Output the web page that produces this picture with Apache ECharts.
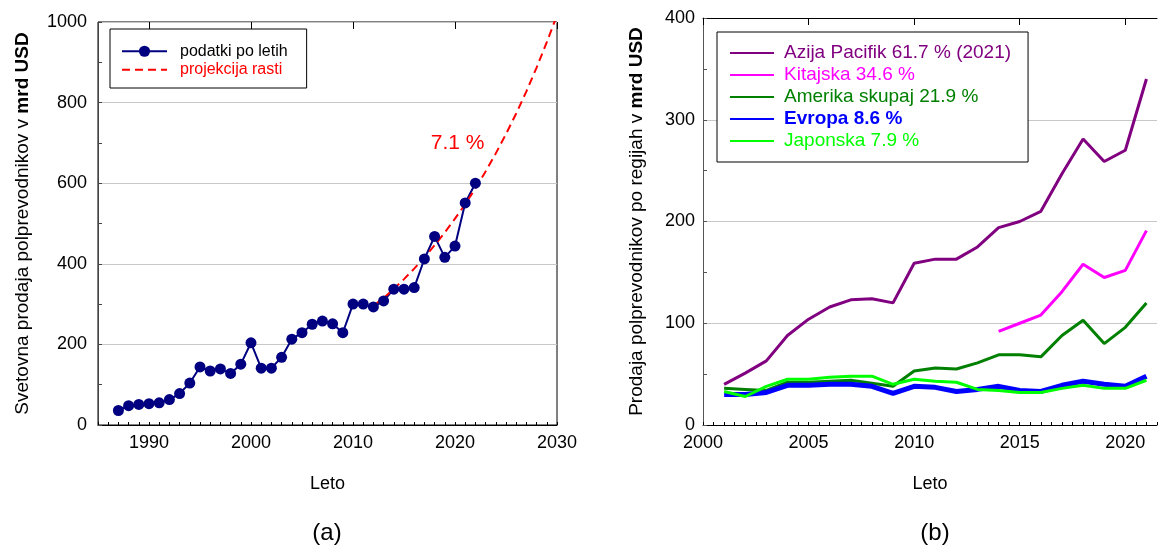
<!DOCTYPE html>
<html><head><meta charset="utf-8">
<script src="https://cdn.jsdelivr.net/npm/echarts@6/dist/echarts.min.js"></script>
<style>html,body{margin:0;padding:0;background:#fff}#c{width:1160px;height:546px}</style>
</head><body><div id="c"></div>
<script>
// ---------- Data (a) ----------
const worldYears = [1987,1988,1989,1990,1991,1992,1993,1994,1995,1996,1997,1998,1999,2000,2001,2002,2003,2004,2005,2006,2007,2008,2009,2010,2011,2012,2013,2014,2015,2016,2017,2018,2019,2020,2021,2022];
const worldSales = [36,48,51,53,55,63,78,104,144,134,139,128,151,204,141,141,168,213,229,250,258,251,229,300,300,293,308,337,337,341,412,468,416,444,551,600];
const projYears = [2012,2013,2014,2015,2016,2017,2018,2019,2020,2021,2022,2023,2024,2025,2026,2027,2028,2029,2030];
const projSales = [296,315,338,362,388,416,446,478,512,548,587,629,674,722,773,828,887,950,1017];
const growthLabel = '7.1 %';
const growthLabelPos = [2020.25, 700];
const xTicksA = [1990,2000,2010,2020,2030];

// ---------- Data (b) ----------
const regionYears = [2001,2002,2003,2004,2005,2006,2007,2008,2009,2010,2011,2012,2013,2014,2015,2016,2017,2018,2019,2020,2021];
const asiaPacific = [40,51,63,88,104,116,123,124,120,159,163,163,175,194,200,210,247,281,259,270,340];
const china      = [null,null,null,null,null,null,null,null,null,null,null,null,null,92,100,108,131,158,145,152,191];
const americas   = [36,35,34,42,42,43,44,41,38,53,56,55,61,69,69,67,88,103,80,96,120];
const europe     = [30,30,32,39,39,40,40,38,31,38,37,33,35,38,34,33,39,43,40,38,48];
const japan      = [33,28,38,45,45,47,48,48,40,45,43,42,35,34,32,32,36,39,36,36,44];
const regionNames = ['Azija Pacifik 61.7 % (2021)','Kitajska 34.6 %','Amerika skupaj 21.9 %','Evropa 8.6 %','Japonska 7.9 %'];
const regionColors = ['#800080','#ff00ff','#008000','#0000ff','#00ff00'];
const xTicksB = [2000,2005,2010,2015,2020];

const pairs = (xs, ys) => xs.map((x, i) => [x, ys[i]]);
const FONT = 'Liberation Sans, Arial, sans-serif';
const plain = v => String(v);

const chart = echarts.init(document.getElementById('c'), null, {renderer: 'canvas'});

const option = {
  animation: false,
  textStyle: {fontFamily: FONT},
  grid: [
    {left: 98, width: 459, top: 22, bottom: 121, show: true, borderColor: '#000', borderWidth: 1},
    {left: 703, right: 0, top: 18, bottom: 121, show: false}
  ],
  xAxis: [
    {
      gridIndex: 0, type: 'value', min: 1985, max: 2030, interval: 1,
      axisLine: {lineStyle: {color: '#000', width: 1}},
      axisTick: {inside: true, length: 3, lineStyle: {color: '#000'}},
      axisLabel: {color: '#000', fontSize: 18, fontFamily: FONT, margin: 9,
        formatter: v => (xTicksA.indexOf(v) >= 0 ? String(v) : '')},
      splitLine: {show: false},
      name: 'Leto', nameLocation: 'middle', nameGap: 50,
      nameTextStyle: {color: '#000', fontSize: 18, fontFamily: FONT}
    },
    {
      gridIndex: 0, type: 'value', min: 1985, max: 2030, interval: 1,
      axisLine: {show: false},
      axisTick: {inside: true, length: 7, customValues: xTicksA, lineStyle: {color: '#000'}},
      axisLabel: {show: false},
      splitLine: {show: false}
    },
    {
      gridIndex: 1, type: 'value', min: 2000, max: 2021.5, interval: 0.5,
      axisLine: {lineStyle: {color: '#000', width: 1}},
      axisTick: {inside: true, length: 3, lineStyle: {color: '#000'}},
      axisLabel: {color: '#000', fontSize: 18, fontFamily: FONT, margin: 9,
        formatter: v => (xTicksB.indexOf(v) >= 0 ? String(v) : '')},
      splitLine: {show: false},
      name: 'Leto', nameLocation: 'middle', nameGap: 50,
      nameTextStyle: {color: '#000', fontSize: 18, fontFamily: FONT}
    },
    {
      gridIndex: 1, type: 'value', min: 2000, max: 2021.5, interval: 0.5,
      axisLine: {show: false},
      axisTick: {inside: true, length: 7, customValues: xTicksB, lineStyle: {color: '#000'}},
      axisLabel: {show: false},
      splitLine: {show: false}
    },
    {
      gridIndex: 1, type: 'value', position: 'top', min: 2000, max: 2021.5,
      axisLine: {show: true, lineStyle: {color: '#000', width: 1}},
      axisTick: {show: false}, axisLabel: {show: false}, splitLine: {show: false}
    }
  ],
  yAxis: [
    {
      gridIndex: 0, type: 'value', min: 0, max: 1000, interval: 200,
      axisLine: {show: true, lineStyle: {color: '#444', width: 1}},
      axisTick: {show: true, inside: true, length: 4, lineStyle: {color: '#444'}},
      minorTick: {show: true, splitNumber: 2, length: 4, lineStyle: {color: '#444'}},
      axisLabel: {color: '#000', fontSize: 18, fontFamily: FONT, margin: 11, formatter: plain},
      splitLine: {show: true, lineStyle: {color: '#c8c8c8', width: 1}},
      name: '{a|Svetovna prodaja polprevodnikov v }{b|mrd USD}',
      nameLocation: 'middle', nameGap: 66, nameRotate: 90,
      nameTextStyle: {rich: {
        a: {fontSize: 19, color: '#000', fontFamily: FONT},
        b: {fontSize: 19, color: '#000', fontFamily: FONT, fontWeight: 'bold'}
      }}
    },
    {
      gridIndex: 1, type: 'value', min: 0, max: 400, interval: 100,
      axisLine: {show: true, lineStyle: {color: '#555', width: 1}},
      axisTick: {show: true, inside: true, length: 4, lineStyle: {color: '#555'}},
      minorTick: {show: true, splitNumber: 2, length: 4, lineStyle: {color: '#555'}},
      axisLabel: {color: '#000', fontSize: 18, fontFamily: FONT, margin: 8, formatter: plain},
      splitLine: {show: true, lineStyle: {color: '#c8c8c8', width: 1}},
      name: '{a|Prodaja polprevodnikov po regijah v }{b|mrd USD}',
      nameLocation: 'middle', nameGap: 57, nameRotate: 90,
      nameTextStyle: {rich: {
        a: {fontSize: 19, color: '#000', fontFamily: FONT},
        b: {fontSize: 19, color: '#000', fontFamily: FONT, fontWeight: 'bold'}
      }}
    }
  ],
  legend: [
    {
      orient: 'vertical', left: 110, top: 29,
      padding: [13, 19, 9, 11],
      borderColor: '#000', borderWidth: 1, backgroundColor: '#fff',
      itemWidth: 45, itemHeight: 14, itemGap: 0,
      textStyle: {fontSize: 16, lineHeight: 18.5, fontFamily: FONT, padding: [0, 0, 0, 8]},
      data: [
        {name: 'podatki po letih', textStyle: {color: '#000'}},
        {name: 'projekcija rasti', textStyle: {color: '#ff0000'}, itemStyle: {opacity: 0}}
      ]
    },
    {
      orient: 'vertical', left: 717, top: 32,
      padding: [10, 17, 10, 12],
      borderColor: '#000', borderWidth: 1, backgroundColor: '#fff',
      itemWidth: 44, itemHeight: 14, itemGap: 0,
      textStyle: {fontSize: 19, lineHeight: 22, fontFamily: FONT, padding: [0, 0, 0, 5]},
      data: regionNames.map((n, i) => ({
        name: n,
        itemStyle: {opacity: 0},
        textStyle: {color: regionColors[i], fontWeight: i === 3 ? 'bold' : 'normal'}
      }))
    }
  ],
  series: [
    {
      name: 'podatki po letih', type: 'line', xAxisIndex: 0, yAxisIndex: 0,
      data: pairs(worldYears, worldSales),
      symbol: 'circle', symbolSize: 11, showSymbol: true,
      itemStyle: {color: '#000080'},
      lineStyle: {color: '#000080', width: 2}
    },
    {
      name: 'projekcija rasti', type: 'line', xAxisIndex: 0, yAxisIndex: 0,
      data: pairs(projYears, projSales),
      symbol: 'none', showSymbol: false,
      itemStyle: {color: '#ff0000'},
      lineStyle: {color: '#ff0000', width: 2, type: [8, 5]},
      markPoint: {
        symbol: 'circle', symbolSize: 0,
        data: [{coord: growthLabelPos, value: growthLabel}],
        label: {show: true, position: 'inside', formatter: growthLabel,
          color: '#ff0000', fontSize: 21, fontFamily: FONT}
      }
    }
  ].concat([asiaPacific, china, americas, europe, japan].map((vals, i) => ({
    name: regionNames[i], type: 'line', xAxisIndex: 2, yAxisIndex: 1,
    data: pairs(regionYears, vals),
    symbol: 'none', showSymbol: false, connectNulls: false,
    itemStyle: {color: regionColors[i]},
    lineStyle: {color: regionColors[i], width: i === 3 ? 5 : 3}
  }))),
  graphic: [
    {type: 'text', x: 327, y: 533, style: {text: '(a)', font: '24px ' + FONT, fill: '#000', align: 'center', verticalAlign: 'middle'}},
    {type: 'text', x: 935, y: 533, style: {text: '(b)', font: '24px ' + FONT, fill: '#000', align: 'center', verticalAlign: 'middle'}}
  ]
};
chart.setOption(option);
</script>
</body></html>
